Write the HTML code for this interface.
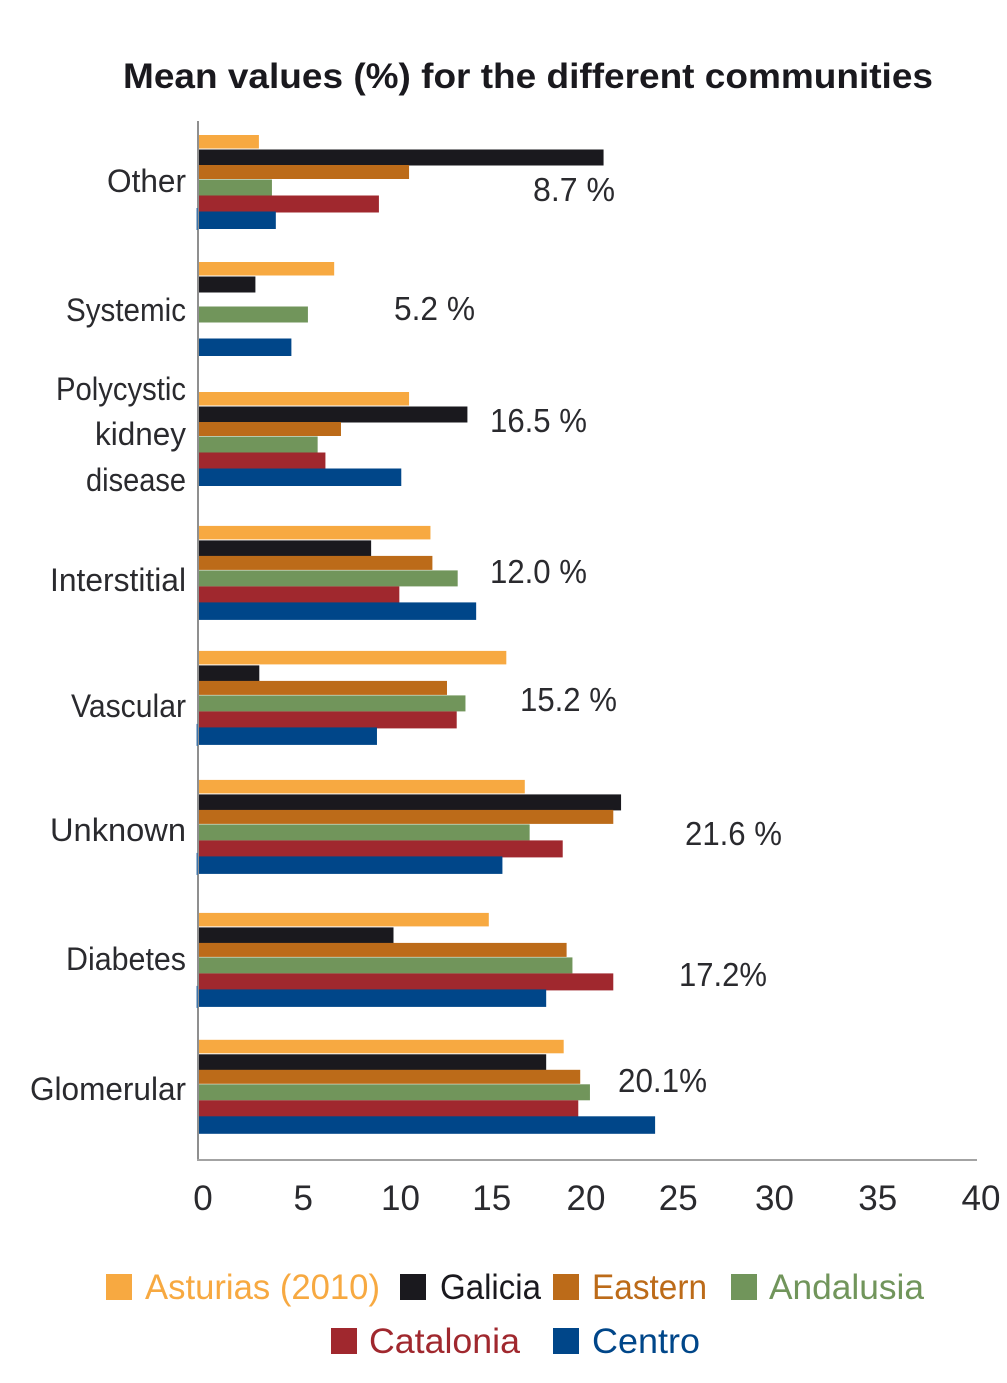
<!DOCTYPE html>
<html lang="en">
<head>
<meta charset="utf-8">
<title>Mean values (%) for the different communities</title>
<style>
html,body{margin:0;padding:0;background:#fff;}
svg{display:block;}
text{font-family:"Liberation Sans",sans-serif;}
</style>
</head>
<body>
<svg id="chart" xmlns="http://www.w3.org/2000/svg" width="1007" height="1383" viewBox="0 0 1007 1383"></svg>
<script>
const categories = ["Other","Systemic","Polycystic kidney disease","Interstitial","Vascular","Unknown","Diabetes","Glomerular"];
const seriesNames = ["Asturias (2010)","Galicia","Eastern","Andalusia","Catalonia","Centro"];
const asturias = [3.08,6.95,10.8,11.9,15.8,16.75,14.9,18.75];
const galicia = [20.8,2.9,13.8,8.85,3.1,21.7,10,17.85];
const eastern = [10.8,null,7.3,12,12.75,21.3,18.9,19.6];
const andalusia = [3.75,5.6,6.1,13.3,13.7,17,19.2,20.1];
const catalonia = [9.25,null,6.5,10.3,13.25,18.7,21.3,19.5];
const centro = [3.95,4.75,10.4,14.25,9.15,15.6,17.85,23.45];
const tickLabels = [0,5,10,15,20,25,30,35,40];
const printedTotals = ["8.7 %","5.2 %","16.5 %","12.0 %","15.2 %","21.6 %","17.2%","20.1%"];

function render(){
  const svg = document.getElementById('chart');
  const NS = 'http://www.w3.org/2000/svg';
  const allSeries = [asturias,galicia,eastern,andalusia,catalonia,centro];
  const colors = ['#f7a941','#1a191e','#bc6b19','#71955b','#a0282e','#004689'];
  const slugs = ['asturias','galicia','eastern','andalusia','catalonia','centro'];
  const ink = '#2a2a2e';

  const x0 = 199, xMax = 40, plotW = 778;
  const xScale = v => x0 + v / xMax * plotW;
  const groupNudge = [0,-2.3,-1.6,3,-1.3,-1.6,2.1,-0.3];
  const groupTop = i => 135 + i * 129.3 + groupNudge[i];
  const slotOffset = [0,14.5,30,44.5,60.5,76.5];
  const slotHeight = [13.5,16,14,16,17,17.5];

  function make(tag, attrs, text){
    const el = document.createElementNS(NS, tag);
    for (const k in attrs) el.setAttribute(k, attrs[k]);
    if (text !== undefined) el.textContent = text;
    svg.appendChild(el);
    return el;
  }

  const title = make('text',{x:123,y:88,'font-size':35,'font-weight':'bold',fill:'#1a191e',textLength:810,lengthAdjust:'spacingAndGlyphs'},'Mean values (%) for the different communities');
  
  

  // bars
  allSeries.forEach((vals,s)=>{
    vals.forEach((v,c)=>{
      if (v === null) return;
      const r = make('rect',{x:x0,y:groupTop(c)+slotOffset[s],width:xScale(v)-x0,height:slotHeight[s],fill:colors[s]});
      
      
    });
  });

  // axes
  const yAxis = make('line',{x1:198,y1:121,x2:198,y2:1160.5,stroke:'#8f8f8f','stroke-width':2});
  
  
  const xAxis = make('line',{x1:197,y1:1160,x2:977,y2:1160,stroke:'#a3a3a3','stroke-width':2});
  
  

  // small blue stubs on the axis
  [0,4,5,6].forEach(c=>{
    const stub = make('rect',{x:196.5,y:groupTop(c)+73,width:1.5,height:22,fill:'#3f74a8'});
    
    
  });

  // category labels
  const labelLines = [['Other'],['Systemic'],['Polycystic','kidney','disease'],['Interstitial'],['Vascular'],['Unknown'],['Diabetes'],['Glomerular']];
  const labelBase = [[192],[321],[400,445,491],[591],[717],[841],[970],[1100]];
  const labelWidth = [[79],[120],[130,91,100],[136],[115],[136],[120],[156]];
  labelLines.forEach((lines,c)=>{
    lines.forEach((ln,j)=>{
      const t = make('text',{x:186,y:labelBase[c][j],'text-anchor':'end','font-size':32,fill:ink,textLength:labelWidth[c][j],lengthAdjust:'spacingAndGlyphs'},ln);
      
      
    });
  });

  // printed totals
  const totalX = [533,394,490,490,520,685,679,618];
  const totalY = [201,320,432,583,711,845,986,1092];
  const totalW = [82,81,97,97,97,97,88,89];
  printedTotals.forEach((p,c)=>{
    const t = make('text',{x:totalX[c],y:totalY[c],'font-size':33,fill:ink,textLength:totalW[c],lengthAdjust:'spacingAndGlyphs'},p);
    
    
  });

  // x tick labels
  const tickNudge = [4,7,7,1,-2,-7,-8,-2,4];
  tickLabels.forEach((v,i)=>{
    const t = make('text',{x:xScale(v)+tickNudge[i],y:1210,'text-anchor':'middle','font-size':35,fill:ink},String(v));
    
    
  });

  // legend
  const legendSwatchX = [106,400,553,731,331,553];
  const legendTextX = [145,440,592,769,369,592];
  const legendTextW = [235,101,115,155,151,108];
  const legendRowY = [1274,1274,1274,1274,1328,1328];
  seriesNames.forEach((name,s)=>{
    const sw = make('rect',{x:legendSwatchX[s],y:legendRowY[s],width:26,height:26,fill:colors[s]});
    
    
    const t = make('text',{x:legendTextX[s],y:legendRowY[s]+25,'font-size':35,fill:colors[s],textLength:legendTextW[s],lengthAdjust:'spacingAndGlyphs'},name);
    
    
  });
}
render();
</script>
</body>
</html>
